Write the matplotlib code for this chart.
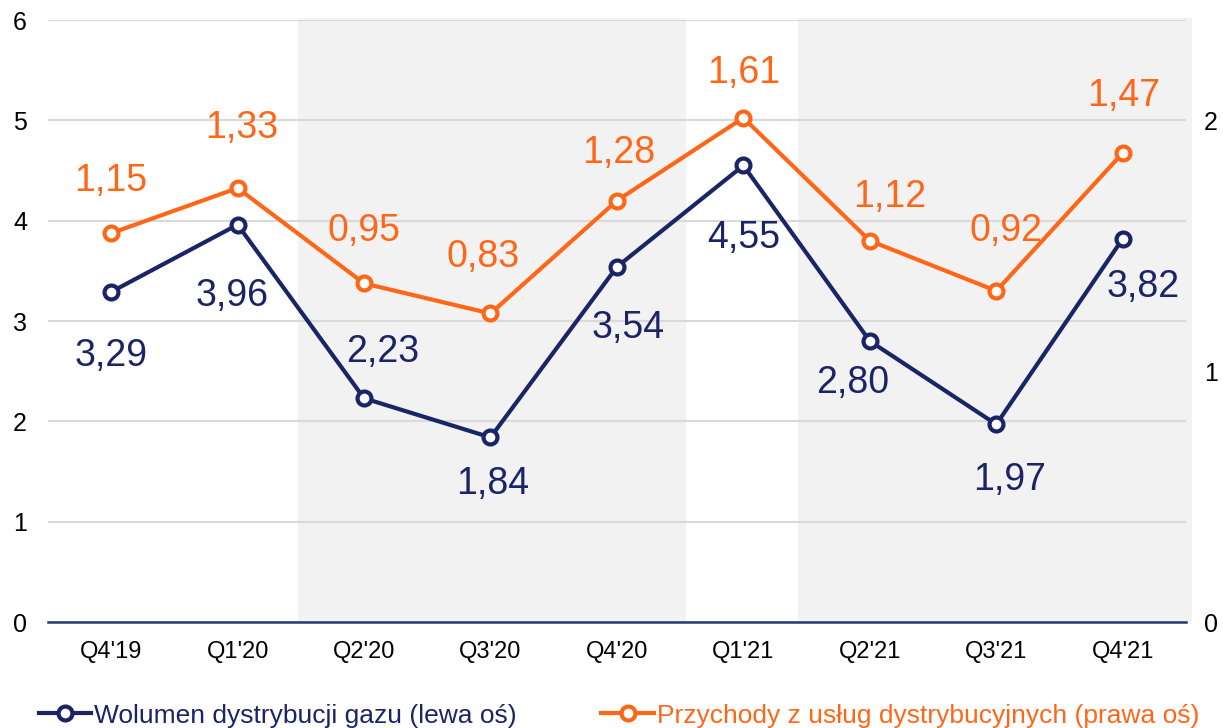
import matplotlib.pyplot as plt
from matplotlib.lines import Line2D

plt.rcParams['font.family'] = ['Liberation Sans', 'DejaVu Sans']

quarters = ["Q4'19", "Q1'20", "Q2'20", "Q3'20", "Q4'20", "Q1'21", "Q2'21", "Q3'21", "Q4'21"]
volume = [3.29, 3.96, 2.23, 1.84, 3.54, 4.55, 2.80, 1.97, 3.82]
revenue = [1.15, 1.33, 0.95, 0.83, 1.28, 1.61, 1.12, 0.92, 1.47]
left_ticks = [0, 1, 2, 3, 4, 5, 6]
right_ticks = [0, 1, 2]

NAVY = "#1b2566"
ORANGE = "#ff6718"
BAND = "#f2f2f2"
GRID = "#d9d9d9"

# the orange series sits 0.4 above its labelled value on the right scale in the original
REV_SHIFT = 0.4

# label offsets in pixels (dx, dy) from each point
vol_off = [(0, -64), (-6, -71), (19, 46), (2, -47), (11, -61), (0, -73), (-17, -42), (13, -56), (20, -48)]
rev_off = [(0, 52), (4, 60), (0, 52), (-7, 56), (2, 48), (0, 45), (20, 44), (10, 60), (1, 57)]


def fmt(v):
    return f"{v:.2f}".replace(".", ",")


def main():
    fig = plt.figure(figsize=(12.23, 7.28), dpi=100)
    ax = fig.add_axes([0.0392, 0.1456, 0.9305, 0.8269])
    ax2 = ax.twinx()

    x = list(range(len(quarters)))
    ax.set_xlim(-0.5, len(quarters) - 0.5)
    ax.set_ylim(0, 6)
    ax2.set_ylim(0, 2.4)

    ax.axvspan(1.48, 4.55, ymin=0, ymax=1.004, color=BAND, zorder=0, lw=0, clip_on=False)
    ax.axvspan(5.43, 8.55, ymin=0, ymax=1.004, color=BAND, zorder=0, lw=0, clip_on=False)

    ax.set_yticks(left_ticks)
    ax.grid(axis="y", color=GRID, lw=1.5, zorder=1)
    ax.set_axisbelow(True)
    ax2.set_yticks(right_ticks)

    for a in (ax, ax2):
        for s in a.spines.values():
            s.set_visible(False)
        a.tick_params(length=0, labelsize=18, colors="black")
    ax.spines["bottom"].set_visible(True)
    ax.spines["bottom"].set_color("#1f3f6e")
    ax.spines["bottom"].set_linewidth(1.8)
    ax.spines["bottom"].set_zorder(2)

    ax.set_xticks(x)
    ax.set_xticklabels(quarters, fontsize=17)
    ax.tick_params(axis="x", pad=14)
    ax.tick_params(axis="y", pad=15)
    ax2.tick_params(axis="y", pad=13)

    mk = dict(marker="o", markersize=10, markerfacecolor="white", markeredgewidth=3, lw=3)
    ax.plot(x, volume, color=NAVY, zorder=3, **mk)
    shifted = [v + REV_SHIFT for v in revenue]
    ax2.plot(x, shifted, color=ORANGE, zorder=3, **mk)

    for xi, v, (dx, dy) in zip(x, volume, vol_off):
        ax.annotate(fmt(v), (xi, v), xytext=(dx, dy), textcoords="offset pixels",
                    ha="center", va="center", fontsize=27, color=NAVY)
    for xi, v, s, (dx, dy) in zip(x, revenue, shifted, rev_off):
        ax2.annotate(fmt(v), (xi, s), xytext=(dx, dy), textcoords="offset pixels",
                     ha="center", va="center", fontsize=27, color=ORANGE)

    handles = [
        Line2D([], [], color=NAVY, **mk),
        Line2D([], [], color=ORANGE, **mk),
    ]
    labels = ["Wolumen dystrybucji gazu (lewa oś)", "Przychody z usług dystrybucyjnych (prawa oś)"]
    leg = fig.legend(handles, labels, loc="center", bbox_to_anchor=(0.506, 0.017), ncol=2,
                     frameon=False, fontsize=19, handlelength=2.0, handletextpad=0.1,
                     columnspacing=3.2, borderaxespad=0)
    for t, c in zip(leg.get_texts(), (NAVY, ORANGE)):
        t.set_color(c)

    fig.savefig("out.png", dpi=100)


if __name__ == "__main__":
    main()
